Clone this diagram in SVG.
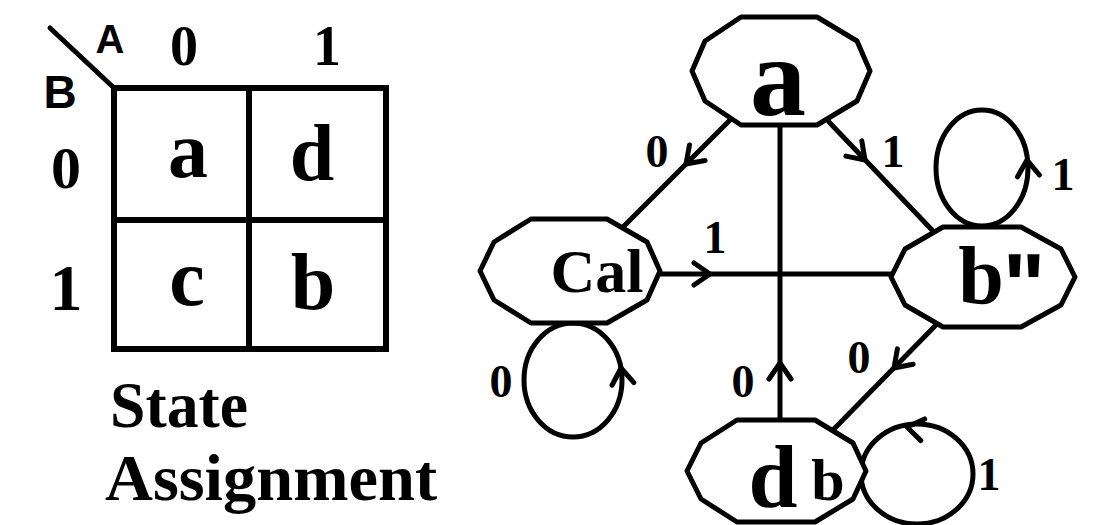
<svg xmlns="http://www.w3.org/2000/svg" xmlns:xlink="http://www.w3.org/1999/xlink" width="1101" height="525" viewBox="0 0 1101 525">
<style>
.ln{fill:none;stroke:#000;stroke-width:5;stroke-linecap:round;stroke-linejoin:round}
.box{fill:none;stroke:#000;stroke-width:6;stroke-linejoin:miter}
.node{fill:#fff;stroke:#000;stroke-width:5;stroke-linejoin:round}
.t{font-family:"Liberation Serif","DejaVu Serif",serif;font-weight:bold;fill:#000;text-anchor:middle}
.s{font-family:"Liberation Sans","DejaVu Sans",sans-serif;font-weight:bold;fill:#000;text-anchor:middle}
.l{font-family:"Liberation Serif","DejaVu Serif",serif;font-weight:bold;fill:#000}
</style>
<defs>
<path id="chev" d="M-16,-11 L0,0 L-16,11" fill="none" stroke="#000" stroke-width="5" stroke-linecap="round" stroke-linejoin="round"/>
</defs>
<rect width="1101" height="525" fill="#fff"/>

<g id="kmap">
<line class="ln" x1="50" y1="28" x2="113" y2="87"/>
<rect class="box" x="114" y="88" width="272" height="261"/>
<line class="box" x1="249" y1="88" x2="249" y2="349"/>
<line class="box" x1="114" y1="220" x2="386" y2="220"/>
<text class="s" x="110" y="53" font-size="40">A</text>
<text class="s" x="60" y="108" font-size="46">B</text>
<text class="t" x="184" y="65" font-size="56">0</text>
<text class="t" x="327" y="65" font-size="56">1</text>
<text class="t" x="66" y="188" font-size="60">0</text>
<text class="t" x="66" y="310" font-size="66">1</text>
<text class="t" x="188" y="177" font-size="80">a</text>
<text class="t" x="312" y="180" font-size="80">d</text>
<text class="t" x="187" y="305" font-size="80">c</text>
<text class="t" x="313" y="309" font-size="80">b</text>
<text class="l" x="110" y="427" font-size="66" textLength="138" lengthAdjust="spacingAndGlyphs">State</text>
<text class="l" x="105" y="500" font-size="66" textLength="332" lengthAdjust="spacingAndGlyphs">Assignment</text>
</g>

<g id="connectors">
<line class="ln" x1="732" y1="118" x2="622" y2="228"/>
<use xlink:href="#chev" href="#chev" transform="translate(686,164) rotate(135)"/>
<text class="t" x="657" y="167" font-size="46">0</text>

<line class="ln" x1="829" y1="122" x2="932" y2="230"/>
<use xlink:href="#chev" href="#chev" transform="translate(865,160) rotate(46)"/>
<text class="t" x="893" y="167" font-size="46">1</text>

<line class="ln" x1="780" y1="124" x2="780" y2="421"/>
<use xlink:href="#chev" href="#chev" transform="translate(780,363) rotate(-90)"/>
<text class="t" x="743" y="397" font-size="46">0</text>

<line class="ln" x1="660" y1="274" x2="891" y2="274"/>
<use xlink:href="#chev" href="#chev" transform="translate(710,274)"/>
<text class="t" x="715" y="253" font-size="46">1</text>

<line class="ln" x1="936" y1="325" x2="831" y2="432"/>
<use xlink:href="#chev" href="#chev" transform="translate(894,368) rotate(134.5)"/>
<text class="t" x="859" y="373" font-size="46">0</text>

<ellipse class="ln" cx="982" cy="168" rx="46" ry="58"/>
<use xlink:href="#chev" href="#chev" transform="translate(1027,160) rotate(-95)"/>
<text class="t" x="1063" y="190" font-size="46">1</text>

<ellipse class="ln" cx="573" cy="380" rx="49" ry="57"/>
<use xlink:href="#chev" href="#chev" transform="translate(621,368) rotate(-97)"/>
<text class="t" x="501" y="397" font-size="46">0</text>

<ellipse class="ln" cx="917" cy="474" rx="56" ry="50"/>
<use xlink:href="#chev" href="#chev" transform="translate(907,427) rotate(190)"/>
<text class="t" x="989" y="490" font-size="46">1</text>
</g>

<g id="node-a">
<polygon class="node" points="692,71 705,41 741,17 817,17 857,41 870,71 857,101 817,125 741,125 705,101"/>
<text class="t" x="778" y="115" font-size="112">a</text>
</g>
<g id="node-c">
<polygon class="node" points="480,271 494,242 531,219 607,219 647,242 660,271 647,300 607,323 531,323 494,300"/>
<text class="t" x="597" y="292" font-size="62">Cal</text>
</g>
<g id="node-b">
<polygon class="node" points="891,277 905,249 943,227 1021,227 1061,249 1075,277 1061,305 1021,327 943,327 905,305"/>
<text class="t" x="981" y="303" font-size="82">b</text>
<text class="s" x="1024" y="317" font-size="90">"</text>
</g>
<g id="node-d">
<polygon class="node" points="687,471 701,443 737,420 815,420 853,443 866,471 853,499 815,522 737,522 701,499"/>
<text class="t" x="773" y="507" font-size="88">d</text>
<text class="t" x="828" y="500" font-size="60">b</text>
</g>
</svg>
